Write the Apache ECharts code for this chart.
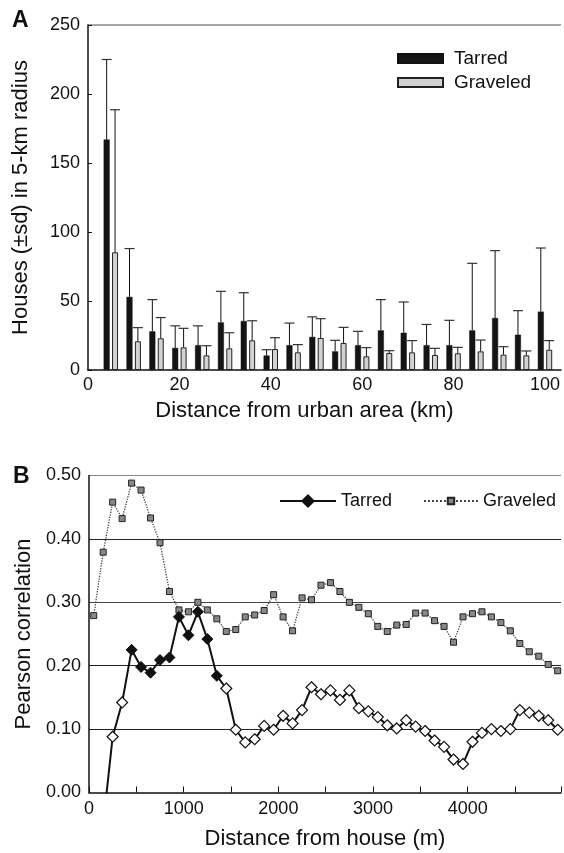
<!DOCTYPE html>
<html>
<head>
<meta charset="utf-8">
<script src="https://cdn.jsdelivr.net/npm/echarts@6/dist/echarts.min.js"></script>
<style>
html,body{margin:0;padding:0;background:#fff;}
#chart{width:564px;height:853px;}
</style>
</head>
<body>
<div id="chart"></div>
<script>
// ---------- Panel A data ----------
var distA = [5,10,15,20,25,30,35,40,45,50,55,60,65,70,75,80,85,90,95,100];
var tarredMean = [167,53,28,16,18,34.5,35.5,10.5,18,24,13.5,18,28.7,27,18,18,28.7,37.7,25.6,42.3];
var tarredSd   = [58,35,23,16,14,22.5,20.5,4.2,16,14.5,8,10,22.3,22.3,15,18,48.6,48.8,17.4,46.1];
var graveledMean = [85.3,20.8,23,16.4,10.6,15.7,21.5,15.2,12.8,23.2,19.6,9.9,12.3,12.8,10.9,12.1,13.5,11.1,10.6,14.7];
var graveledSd   = [103.3,9.9,15,13.8,7,11.3,14.2,8.2,5.6,14,11.3,6.3,1.7,8.5,4.8,4.3,8.2,5.8,3.2,6.6];
var yTicksA = [0,50,100,150,200,250];

// ---------- Panel B data ----------
var distB = [50,150,250,350,450,550,650,750,850,950,1050,1150,1250,1350,1450,1550,1650,1750,1850,1950,
             2050,2150,2250,2350,2450,2550,2650,2750,2850,2950,3050,3150,3250,3350,3450,3550,3650,3750,3850,3950,
             4050,4150,4250,4350,4450,4550,4650,4750,4850,4950];
var tarredR = [-0.15,-0.05,0.088,0.142,0.225,0.198,0.189,0.209,0.213,0.277,0.248,0.285,0.242,0.184,0.164,0.099,0.079,0.084,0.105,0.099,
               0.121,0.109,0.130,0.166,0.155,0.161,0.146,0.161,0.133,0.128,0.119,0.106,0.101,0.114,0.104,0.097,0.082,0.072,0.052,0.045,
               0.080,0.094,0.100,0.097,0.100,0.130,0.126,0.121,0.114,0.099];
var tarredFilled = [0,0,0,0,1,1,1,1,1,1,1,1,1,1,0,0,0,0,0,0,0,0,0,0,0,0,0,0,0,0,0,0,0,0,0,0,0,0,0,0,0,0,0,0,0,0,0,0,0,0];
var graveledR = [0.279,0.379,0.458,0.432,0.488,0.477,0.433,0.394,0.317,0.288,0.285,0.300,0.288,0.274,0.254,0.257,0.277,0.280,0.287,0.312,
                 0.277,0.255,0.307,0.304,0.327,0.331,0.317,0.300,0.292,0.282,0.262,0.254,0.264,0.265,0.283,0.283,0.271,0.262,0.237,0.277,
                 0.282,0.285,0.277,0.268,0.255,0.235,0.222,0.215,0.202,0.192];

var FONT = '"Liberation Sans", Arial, Helvetica, sans-serif';
var BAR_W = 6, BAR_GAP = 0.4;
var OFF = (BAR_W + BAR_W * BAR_GAP) / 2;

function errSeries(name, means, sds, offset) {
  return {
    type: 'custom', name: name, xAxisIndex: 0, yAxisIndex: 0, z: 3,
    encode: { x: 0, y: [1, 2] },
    data: distA.map(function (d, i) { return [d, means[i], means[i] + sds[i]]; }),
    renderItem: function (params, api) {
      var p0 = api.coord([api.value(0), api.value(1)]);
      var p1 = api.coord([api.value(0), api.value(2)]);
      var cx = p0[0] + offset;
      return { type: 'group', children: [
        { type: 'line', shape: { x1: cx, y1: p0[1], x2: cx, y2: p1[1] }, style: { stroke: '#111', lineWidth: 1 } },
        { type: 'line', shape: { x1: cx - 5, y1: p1[1], x2: cx + 5, y2: p1[1] }, style: { stroke: '#333', lineWidth: 1.2 } }
      ]};
    }
  };
}

var chart = echarts.init(document.getElementById('chart'), null, { renderer: 'canvas' });

var option = {
  animation: false,
  backgroundColor: '#fff',
  textStyle: { fontFamily: FONT },
  graphic: [
    { type: 'text', left: 12, top: 9, style: { text: 'A', font: 'bold 23px ' + FONT, fill: '#111' } },
    { type: 'text', left: 13, top: 465, style: { text: 'B', font: 'bold 23px ' + FONT, fill: '#111' } }
  ],
  grid: [
    { left: 88, width: 474, top: 25, height: 345 },
    { left: 89, width: 475, top: 475.5, height: 317 }
  ],
  legend: [
    {
      data: ['Tarred', 'Graveled'], orient: 'vertical', left: 397, top: 49, padding: 0,
      icon: 'rect', itemWidth: 45, itemHeight: 9, itemGap: 5, selectedMode: false,
      textStyle: { fontSize: 19, color: '#111', fontFamily: FONT, padding: [0, 0, 0, 6] }
    },
    {
      data: ['Tarred r'], orient: 'horizontal', left: 279, top: 492, padding: 0,
      itemWidth: 56, itemHeight: 14, selectedMode: false,
      formatter: function (n) { return n.replace(' r', ''); },
      textStyle: { fontSize: 18, color: '#111', fontFamily: FONT }
    },
    {
      data: ['Graveled r'], orient: 'horizontal', left: 423, top: 492, padding: 0,
      itemWidth: 54, itemHeight: 8, selectedMode: false,
      formatter: function (n) { return n.replace(' r', ''); },
      textStyle: { fontSize: 18, color: '#111', fontFamily: FONT }
    }
  ],
  xAxis: [
    {
      type: 'value', gridIndex: 0, min: 0, max: 103.5, interval: 20,
      name: 'Distance from urban area (km)', nameLocation: 'middle', nameGap: 30,
      nameTextStyle: { fontSize: 22, color: '#111', fontFamily: FONT, padding: [0, 40, 0, 0] },
      axisLine: { lineStyle: { color: '#111', width: 1.5 } },
      axisTick: { show: false },
      splitLine: { show: false },
      axisLabel: { fontSize: 18, color: '#111', fontFamily: FONT, margin: 6,
        formatter: function (v) { return v % 20 === 0 ? String(v) : ''; } }
    },
    {
      type: 'value', gridIndex: 1, min: 0, max: 4985, interval: 500,
      name: 'Distance from house (m)', nameLocation: 'middle', nameGap: 35,
      nameTextStyle: { fontSize: 22, color: '#111', fontFamily: FONT },
      axisLine: { lineStyle: { color: '#111', width: 1.5 } },
      axisTick: { inside: true, length: 6, lineStyle: { color: '#111' } },
      splitLine: { show: false },
      axisLabel: { fontSize: 18, color: '#111', fontFamily: FONT, margin: 8,
        formatter: function (v) { return v % 1000 === 0 ? String(v) : ''; } }
    }
  ],
  yAxis: [
    {
      type: 'value', gridIndex: 0, min: yTicksA[0], max: yTicksA[yTicksA.length - 1], interval: 50,
      name: 'Houses (\u00b1sd) in 5-km radius', nameLocation: 'middle', nameGap: 56, nameRotate: 90,
      nameTextStyle: { fontSize: 22, color: '#111', fontFamily: FONT },
      axisLine: { show: true, lineStyle: { color: '#111', width: 1.5 } },
      axisTick: { show: true, inside: true, length: 4, lineStyle: { color: '#111' } },
      splitLine: { show: true, lineStyle: { color: ['rgba(0,0,0,0)','rgba(0,0,0,0)','rgba(0,0,0,0)','rgba(0,0,0,0)','rgba(0,0,0,0)','#888'], width: 1.5 } },
      axisLabel: { fontSize: 18, color: '#111', fontFamily: FONT, margin: 8 }
    },
    {
      type: 'value', gridIndex: 1, min: 0, max: 0.5, interval: 0.1,
      name: 'Pearson correlation', nameLocation: 'middle', nameGap: 54, nameRotate: 90,
      nameTextStyle: { fontSize: 22, color: '#111', fontFamily: FONT },
      axisLine: { show: true, lineStyle: { color: '#111', width: 1.5 } },
      axisTick: { show: false },
      splitLine: { show: true, lineStyle: { color: ['rgba(0,0,0,0)','#222','#222','#444','#222','#888'], width: 1 } },
      axisLabel: { fontSize: 18, color: '#111', fontFamily: FONT, margin: 8,
        formatter: function (v) { return v.toFixed(2); } }
    }
  ],
  series: [
    {
      name: 'Tarred', type: 'bar', xAxisIndex: 0, yAxisIndex: 0,
      barWidth: BAR_W, barGap: (BAR_GAP * 100) + '%',
      itemStyle: { color: '#141414', borderColor: '#111', borderWidth: 0.5 },
      data: distA.map(function (d, i) { return [d, tarredMean[i]]; })
    },
    {
      name: 'Graveled', type: 'bar', xAxisIndex: 0, yAxisIndex: 0,
      barWidth: BAR_W, barGap: (BAR_GAP * 100) + '%',
      itemStyle: { color: '#d2d2d2', borderColor: '#222', borderWidth: 1 },
      data: distA.map(function (d, i) { return [d, graveledMean[i]]; })
    },
    errSeries('errT', tarredMean, tarredSd, -OFF),
    errSeries('errG', graveledMean, graveledSd, OFF),
    {
      name: 'Graveled r', type: 'line', xAxisIndex: 1, yAxisIndex: 1, z: 3,
      symbol: 'rect', symbolSize: 6,
      lineStyle: { color: '#444', width: 1.3, type: 'dotted' },
      itemStyle: { color: '#888', borderColor: '#222', borderWidth: 1 },
      data: distB.map(function (d, i) { return [d, graveledR[i]]; })
    },
    {
      name: 'Tarred r', type: 'line', xAxisIndex: 1, yAxisIndex: 1, z: 4,
      symbol: 'diamond', symbolSize: 11,
      lineStyle: { color: '#111', width: 2 },
      itemStyle: { color: '#111', borderColor: '#111', borderWidth: 1 },
      data: distB.map(function (d, i) {
        return tarredFilled[i]
          ? { value: [d, tarredR[i]] }
          : { value: [d, tarredR[i]], itemStyle: { color: '#fff', borderColor: '#111', borderWidth: 1.2 } };
      })
    }
  ]
};
chart.setOption(option);
</script>
</body>
</html>
